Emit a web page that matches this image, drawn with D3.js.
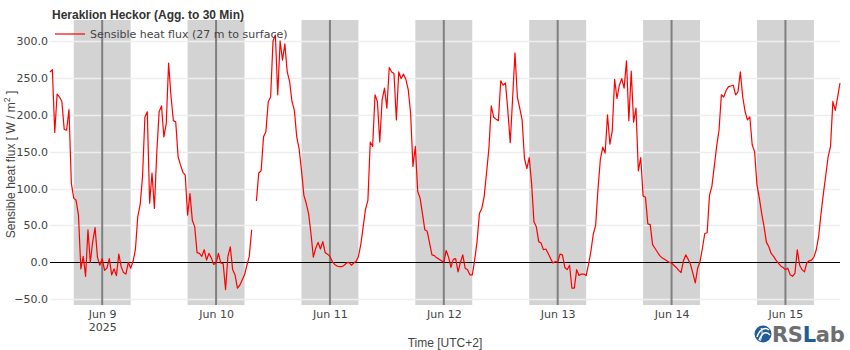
<!DOCTYPE html>
<html>
<head>
<meta charset="utf-8">
<script src="https://cdn.jsdelivr.net/npm/d3@7"></script>
<style>
  html, body { margin: 0; padding: 0; background: #fff; }
  svg { display: block; }
</style>
</head>
<body>
<div id="chart"></div>
<script>
// Sensible heat flux, 30-minute aggregates (W/m²), one array per calendar day.
// Jun 8 starts at 13:00; Jun 15 ends at 11:30. null = missing interval.
const jun08 = [258, 261, 176, 228, 224, 218, 180, 179, 207, 107, 87, 84, 64, -9, 8, -19, 44, 0, 28, 47, 7, -4];
const jun09 = [5, -11, -8, 5, -17, -9, -18, 11, -6, -14,
               -16, 0, -8, 1, 17, 62, 78, 116, 197, 204,
               80, 121, 73, 148, 204, 212, 170, 188, 270, 225,
               192, 190, 143, 132, 122, 118, 64, 93, 57, 48,
               13, 12, 8, 17, 3, 12, 6, -3];
const jun10 = [-1, 12, -1, -2, -37, 8, 21, -10, -17, -35,
               -31, -24, -17, -4, 8, 44, null, 83, 121, 124,
               170, 177, 218, 224, 300, 308, 227, 300, 274, 296,
               258, 245, 218, 206, 170, 154, 125, 91, 80, 66,
               39, 7, 19, 27, 18, 28, 13, 11];
const jun11 = [8, 1, -3, -5, -6, -6, -4, -1, 0, -4,
               -1, 1, 8, 24, 48, 72, 84, 163, 157, 227,
               218, 163, 220, 236, 209, 264, 258, 256, 193, 258,
               249, 255, 248, 234, 202, 130, 157, 96, 87, 66,
               44, 42, 26, 10, 9, 6, 4, 2];
const jun12 = [0, 16, 7, -7, 4, 5, -13, 0, 10, -8,
               -10, -17, -17, 3, 28, 66, 73, 89, 121, 154,
               212, 197, 194, 192, 246, 240, 243, 205, 162, 222,
               284, 224, 209, 193, 141, 127, 142, 107, 55, 48,
               28, 26, 17, 18, 12, 5, -1, 1];
const jun13 = [0, 11, 10, -7, -10, -4, -35, -35, -10, -18,
               -16, -16, -18, -3, 15, 38, 50, 100, 140, 156,
               148, 200, 160, 178, 248, 222, 240, 249, 236, 273,
               192, 259, 190, 209, 124, 142, 90, 88, 52, 51,
               24, 19, 14, 9, 6, 4, 2, 0];
const jun14 = [-1, -4, -7, -11, -14, 2, 10, 4, -3, -15,
               -28, -8, 1, 19, 39, 40, 91, 103, 130, 157,
               179, 227, 224, 233, 238, 239, 240, 227, 231, 258,
               224, 204, 193, 197, 159, 150, 105, 87, 66, 48,
               27, 21, 12, 8, 3, -1, -5, -7];
const jun15 = [-10, -8, -17, -19, -15, 17, -4, -10, -13, -1,
               2, 3, 7, 17, 35, 66, 93, 118, 143, 157,
               218, 206, 224, 243];

const dailyValues = [jun08, jun09, jun10, jun11, jun12, jun13, jun14, jun15];
const seriesStart = Date.UTC(2025, 5, 8, 13, 0);
const stepMs = 30 * 60 * 1000;

// Axis ticks
const yTicks = [-50, 0, 50, 100, 150, 200, 250, 300];
const xTickDays = [9, 10, 11, 12, 13, 14, 15];
const xTickYear = "2025";

// Night shading 18:00 → 06:00
const nightStarts = [8, 9, 10, 11, 12, 13, 14];

const titleText = "Heraklion Heckor (Agg. to 30 Min)";
const seriesName = "Sensible heat flux (27 m to surface)";

// ---- build the series ----
const flux = dailyValues.flat().map((v, i) => ({
  time: new Date(seriesStart + i * stepMs),
  value: v
}));

const W = 850, H = 350;
const plot = { left: 50, right: 840, top: 20, bottom: 305 };

const svg = d3.select("#chart").append("svg")
  .attr("width", W).attr("height", H)
  .attr("viewBox", `0 0 ${W} ${H}`);

const x = d3.scaleUtc()
  .domain([flux[0].time, flux[flux.length - 1].time])
  .range([plot.left, plot.right]);

const y = d3.scaleLinear()
  .domain([-57.9, 328.4])
  .range([plot.bottom, plot.top]);

// Night bands
svg.append("g").selectAll("rect")
  .data(nightStarts)
  .join("rect")
  .attr("x", d => x(new Date(Date.UTC(2025, 5, d, 18))))
  .attr("width", d => x(new Date(Date.UTC(2025, 5, d + 1, 6))) - x(new Date(Date.UTC(2025, 5, d, 18))))
  .attr("y", plot.top)
  .attr("height", plot.bottom - plot.top)
  .attr("fill", "#d3d3d3");

// Horizontal grid
svg.append("g").selectAll("line")
  .data(yTicks.filter(v => v !== 0))
  .join("line")
  .attr("x1", plot.left).attr("x2", plot.right)
  .attr("y1", d => Math.round(y(d)) + 0.5).attr("y2", d => Math.round(y(d)) + 0.5)
  .attr("stroke", "#eeeeee").attr("stroke-width", 1.5);

// Midnight markers
const midnights = xTickDays.map(d => new Date(Date.UTC(2025, 5, d)));
svg.append("g").selectAll("line")
  .data(midnights)
  .join("line")
  .attr("x1", d => x(d)).attr("x2", d => x(d))
  .attr("y1", plot.top).attr("y2", plot.bottom)
  .attr("stroke", "#808080").attr("stroke-width", 2);

// Zero line
svg.append("line")
  .attr("x1", plot.left).attr("x2", plot.right)
  .attr("y1", Math.round(y(0)) + 0.5).attr("y2", Math.round(y(0)) + 0.5)
  .attr("stroke", "#000").attr("stroke-width", 1.2);

// Y axis
const yAxis = svg.append("g")
  .attr("transform", `translate(${plot.left - 1},0)`)
  .call(d3.axisLeft(y).tickValues(yTicks).tickSize(0).tickPadding(1).tickFormat(d3.format(".1f")));
yAxis.select(".domain").remove();
yAxis.selectAll("text")
  .attr("font-family", "'DejaVu Sans', Verdana, sans-serif")
  .attr("font-size", 11)
  .attr("fill", "#444");

// X axis
const xAxis = svg.append("g")
  .attr("transform", `translate(0,${plot.bottom})`)
  .call(d3.axisBottom(x).tickValues(midnights).tickSize(0).tickPadding(5)
    .tickFormat(d3.utcFormat("%b %-d")));
xAxis.select(".domain").remove();
xAxis.selectAll("text")
  .attr("font-family", "'DejaVu Sans', Verdana, sans-serif")
  .attr("font-size", 11)
  .attr("fill", "#444");
xAxis.selectAll(".tick").filter((d, i) => i === 0)
  .append("text")
  .attr("y", 26)
  .attr("text-anchor", "middle")
  .attr("font-family", "'DejaVu Sans', Verdana, sans-serif")
  .attr("font-size", 11)
  .attr("fill", "#444")
  .text(xTickYear);

// Series line
const line = d3.line()
  .defined(d => d.value !== null)
  .x(d => x(d.time))
  .y(d => y(d.value));

svg.append("path")
  .datum(flux)
  .attr("d", line)
  .attr("fill", "none")
  .attr("stroke", "#ff0000")
  .attr("stroke-width", 1.2)
  .attr("stroke-linejoin", "round");

// Title
svg.append("text")
  .attr("x", 52).attr("y", 18.5)
  .attr("font-family", "'Liberation Sans', Arial, sans-serif")
  .attr("font-weight", "bold")
  .attr("font-size", 12)
  .attr("fill", "#333")
  .text(titleText);

// Legend
svg.append("line")
  .attr("x1", 55).attr("x2", 85)
  .attr("y1", 34).attr("y2", 34)
  .attr("stroke", "#ff0000").attr("stroke-width", 1.2);
svg.append("text")
  .attr("x", 90).attr("y", 38)
  .attr("font-family", "'DejaVu Sans', Verdana, sans-serif")
  .attr("font-size", 11)
  .attr("fill", "#444")
  .text(seriesName);

// Axis titles
const yTitle = svg.append("text")
  .attr("transform", `translate(15,${(plot.top + plot.bottom) / 2 + 2}) rotate(-90)`)
  .attr("text-anchor", "middle")
  .attr("font-family", "'Liberation Sans', Arial, sans-serif")
  .attr("font-size", 12)
  .attr("fill", "#444");
yTitle.append("tspan").text("Sensible heat flux [ W / m");
yTitle.append("tspan").attr("font-size", 8.5).attr("dy", -5).text("2");
yTitle.append("tspan").attr("dy", 5).text(" ]");

svg.append("text")
  .attr("x", (plot.left + plot.right) / 2).attr("y", 347)
  .attr("text-anchor", "middle")
  .attr("font-family", "'Liberation Sans', Arial, sans-serif")
  .attr("font-size", 12)
  .attr("fill", "#444")
  .text("Time [UTC+2]");

// RSLab mark
const logo = svg.append("g").attr("transform", "translate(763,334)");
logo.append("circle").attr("r", 8.5).attr("fill", "#1f5c99");
logo.append("path")
  .attr("d", "M-6,3 C-3,-6 3,-7 6,-4 M-4,6 C-1,-2 4,-3 7,1")
  .attr("fill", "none").attr("stroke", "#fff").attr("stroke-width", 1.4);
logo.append("path")
  .attr("d", "M-2,-6 C0,-2 -1,3 -3,7")
  .attr("fill", "none").attr("stroke", "#fff").attr("stroke-width", 1);
const logoText = svg.append("text")
  .attr("x", 772).attr("y", 342)
  .attr("font-family", "'DejaVu Sans', Arial, sans-serif")
  .attr("font-weight", "bold")
  .attr("font-size", 21)
  .attr("letter-spacing", -0.3);
logoText.append("tspan").attr("fill", "#6d6e71").text("RS");
logoText.append("tspan").attr("fill", "#1f5c99").text("L");
logoText.append("tspan").attr("fill", "#6d6e71").text("ab");
</script>
</body>
</html>
